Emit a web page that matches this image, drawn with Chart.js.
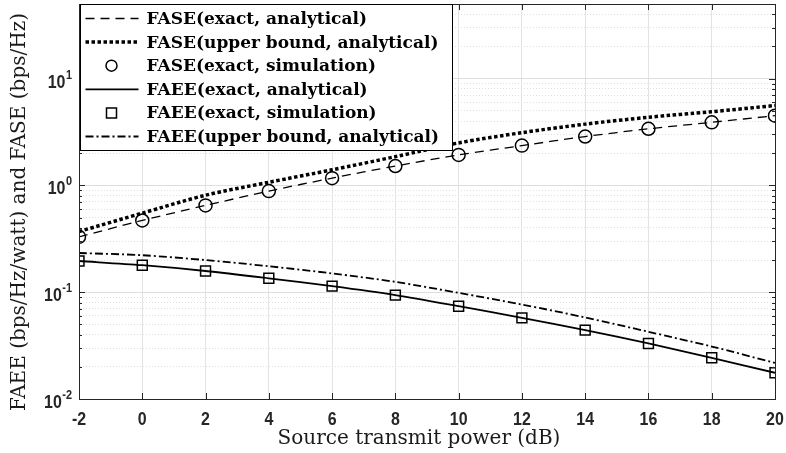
<!DOCTYPE html>
<html>
<head>
<meta charset="utf-8">
<script src="https://cdn.jsdelivr.net/npm/chart.js@4/dist/chart.umd.min.js"></script>
<style>
  html, body { margin: 0; padding: 0; background: #fff; }
  #wrap { width: 786px; height: 453px; }
</style>
</head>
<body>
<div id="wrap"><canvas id="chart" width="786" height="453"></canvas></div>
<script>
// source transmit power (dB)
const power = [-2, 0, 2, 4, 6, 8, 10, 12, 14, 16, 18, 20];

// FASE (bps/Hz)
const faseExact = [0.33, 0.47, 0.65, 0.885, 1.17, 1.52, 1.93, 2.36, 2.87, 3.39, 3.9, 4.5];
const faseUpper = [0.37, 0.55, 0.81, 1.07, 1.4, 1.86, 2.5, 3.12, 3.75, 4.35, 4.9, 5.6];
const faseSim = [0.33, 0.47, 0.65, 0.885, 1.17, 1.52, 1.93, 2.36, 2.87, 3.39, 3.9, 4.5];

// FAEE (bps/Hz/watt)
const faeeExact = [0.196, 0.179, 0.158, 0.135, 0.114, 0.094, 0.074, 0.0575, 0.0442, 0.0331, 0.0243, 0.0176];
const faeeSim = [0.196, 0.179, 0.158, 0.135, 0.114, 0.094, 0.074, 0.0575, 0.0442, 0.0331, 0.0243, 0.0176];
const faeeUpper = [0.233, 0.222, 0.2, 0.175, 0.15, 0.125, 0.0986, 0.0767, 0.058, 0.0426, 0.031, 0.0218];

const seriesLabels = [
  'FASE(exact, analytical)',
  'FASE(upper bound, analytical)',
  'FASE(exact, simulation)',
  'FAEE(exact, analytical)',
  'FAEE(exact, simulation)',
  'FAEE(upper bound, analytical)',
];

const xTitle = 'Source transmit power (dB)';
const yTitle = 'FAEE (bps/Hz/watt) and FASE (bps/Hz)';

const xTicks = [-2, 0, 2, 4, 6, 8, 10, 12, 14, 16, 18, 20];
const yMin = 0.01;
const yMax = 50;

// log ticks 1..9 per decade
const yTicks = [];
for (let e = -2; e <= 1; e++) {
  for (let m = 1; m <= 9; m++) {
    const v = m * Math.pow(10, e);
    if (v <= yMax + 1e-9) yTicks.push(v);
  }
}

const isDecade = (v) => Math.abs(Math.log10(v) - Math.round(Math.log10(v))) < 1e-6;

const pts = (ys) => power.map((x, i) => ({ x: x, y: ys[i] }));

const ink = '#000';
const axisInk = '#262626';
const tickFont = 'bold 19px "Liberation Sans", Arial';
const supFont = 'bold 13px "Liberation Sans", Arial';
const titleFont = '20px "DejaVu Serif"';
const squeeze = 0.84; // tick font of the original is a narrow Helvetica

// draw narrow text; align is 'left' | 'center' | 'right'
function narrowText(ctx, text, x, y, align) {
  const w = ctx.measureText(text).width * squeeze;
  let left = x;
  if (align === 'center') left = x - w / 2;
  if (align === 'right') left = x - w;
  ctx.save();
  ctx.translate(left, y);
  ctx.scale(squeeze, 1);
  ctx.textAlign = 'left';
  ctx.fillText(text, 0, 0);
  ctx.restore();
  return w;
}

// inward tick marks, top/right box, tick labels (10^n with superscript) and axis titles
const boxTicks = {
  id: 'boxTicks',
  afterDraw(chart) {
    const { ctx, chartArea: a, scales } = chart;
    ctx.save();
    ctx.strokeStyle = axisInk;
    ctx.lineWidth = 1;
    ctx.beginPath();
    xTicks.forEach(t => {
      const px = Math.round(scales.x.getPixelForValue(t)) + 0.5;
      ctx.moveTo(px, a.bottom); ctx.lineTo(px, a.bottom - 6);
      ctx.moveTo(px, a.top); ctx.lineTo(px, a.top + 6);
    });
    yTicks.forEach(t => {
      const py = Math.round(scales.y.getPixelForValue(t)) + 0.5;
      const len = isDecade(t) ? 6 : 3;
      ctx.moveTo(a.left, py); ctx.lineTo(a.left + len, py);
      ctx.moveTo(a.right, py); ctx.lineTo(a.right - len, py);
    });
    ctx.stroke();
    ctx.strokeRect(Math.round(a.left) + 0.5, Math.round(a.top) + 0.5,
      Math.round(a.right - a.left), Math.round(a.bottom - a.top));

    ctx.fillStyle = axisInk;
    ctx.font = tickFont;
    ctx.textBaseline = 'alphabetic';
    xTicks.forEach(t => {
      narrowText(ctx, String(t), scales.x.getPixelForValue(t), a.bottom + 26, 'center');
    });

    yTicks.filter(isDecade).forEach(t => {
      const py = scales.y.getPixelForValue(t);
      const exp = String(Math.round(Math.log10(t)));
      const right = a.left - 7;
      ctx.font = supFont;
      const ew = narrowText(ctx, exp, right, py, 'right');
      ctx.font = tickFont;
      narrowText(ctx, '10', right - ew - 0.5, py + 9, 'right');
    });

    ctx.fillStyle = '#1a1a1a';
    ctx.font = titleFont;
    ctx.textAlign = 'center';
    ctx.textBaseline = 'middle';
    ctx.fillText(xTitle, 419, a.bottom + 40);
    ctx.translate(20, 212);
    ctx.rotate(-Math.PI / 2);
    ctx.fillText(yTitle, 0, 0);
    ctx.restore();
  }
};

// legend box in the upper left corner of the plot
const innerLegend = {
  id: 'innerLegend',
  afterDraw(chart) {
    const { ctx, chartArea: a } = chart;
    const x0 = Math.round(a.left) + 1.5;
    const y0 = Math.round(a.top) + 0.5;
    const w = 372, h = 146;
    ctx.save();
    ctx.fillStyle = '#fff';
    ctx.fillRect(x0, y0, w, h);
    ctx.strokeStyle = '#000';
    ctx.lineWidth = 1;
    ctx.strokeRect(x0, y0, w, h);
    ctx.font = 'bold 17px "DejaVu Serif"';
    ctx.textBaseline = 'middle';
    ctx.fillStyle = '#000';
    chart.data.datasets.forEach((ds, i) => {
      const cy = y0 + 14 + i * 23.6;
      if (ds.showLine === false) {
        ctx.setLineDash([]);
        ctx.lineWidth = 1.5;
        ctx.strokeStyle = '#000';
        const cx = x0 + 31;
        ctx.beginPath();
        if (ds.pointStyle === 'rect') {
          ctx.rect(cx - 5, cy - 5, 10, 10);
        } else {
          ctx.arc(cx, cy, 5.5, 0, Math.PI * 2);
        }
        ctx.stroke();
      } else {
        ctx.setLineDash(ds.borderDash || []);
        ctx.lineWidth = ds.borderWidth;
        ctx.strokeStyle = '#000';
        ctx.beginPath();
        ctx.moveTo(x0 + 5, cy);
        ctx.lineTo(x0 + 58, cy);
        ctx.stroke();
      }
      ctx.setLineDash([]);
      ctx.fillText(ds.label, x0 + 66, cy + 1);
    });
    ctx.restore();
  }
};

const lineSet = (label, ys, dash, width) => ({
  label: label,
  data: pts(ys),
  borderColor: ink,
  borderWidth: width,
  borderDash: dash,
  pointRadius: 0,
  fill: false,
  tension: 0.3,
});

const markSet = (label, ys, style) => ({
  label: label,
  data: pts(ys),
  showLine: false,
  pointStyle: style,
  pointRadius: style === 'rect' ? 7 : 6.5,
  pointBorderWidth: 1.5,
  pointBorderColor: ink,
  pointBackgroundColor: 'rgba(0,0,0,0)',
  borderColor: ink,
});

const noPad = (scale) => { scale.paddingTop = 0; scale.paddingBottom = 0; };

new Chart(document.getElementById('chart'), {
  type: 'line',
  data: {
    datasets: [
      lineSet(seriesLabels[0], faseExact, [9, 6], 1.3),
      lineSet(seriesLabels[1], faseUpper, [3.5, 2.5], 3.5),
      markSet(seriesLabels[2], faseSim, 'circle'),
      lineSet(seriesLabels[3], faeeExact, [], 1.8),
      markSet(seriesLabels[4], faeeSim, 'rect'),
      lineSet(seriesLabels[5], faeeUpper, [8, 3, 2, 3], 1.8),
    ],
  },
  options: {
    responsive: false,
    animation: false,
    events: [],
    layout: { autoPadding: false, padding: { top: 4, right: 11, left: 0, bottom: 0 } },
    plugins: {
      legend: { display: false },
      tooltip: { enabled: false },
    },
    scales: {
      x: {
        type: 'linear',
        min: -2,
        max: 20,
        afterBuildTicks: (scale) => { scale.ticks = xTicks.map(v => ({ value: v })); },
        afterFit: (scale) => { scale.height = 54; noPad(scale); },
        grid: { color: '#e3e3e3', lineWidth: 1, drawTicks: false },
        border: { display: true, color: axisInk, width: 1 },
        ticks: { display: false },
        title: { display: false },
      },
      y: {
        type: 'logarithmic',
        min: yMin,
        max: yMax,
        afterBuildTicks: (scale) => { scale.ticks = yTicks.map(v => ({ value: v })); },
        afterFit: (scale) => { scale.width = 79; noPad(scale); },
        grid: {
          color: (c) => isDecade(c.tick.value) ? '#dedede' : '#e0e0e0',
          lineWidth: 1,
          drawTicks: false,
        },
        border: {
          display: true,
          color: axisInk,
          width: 1,
          dash: (c) => (c.tick && !isDecade(c.tick.value)) ? [1, 2] : [],
        },
        ticks: { display: false },
        title: { display: false },
      },
    },
  },
  plugins: [boxTicks, innerLegend],
});
</script>
</body>
</html>
